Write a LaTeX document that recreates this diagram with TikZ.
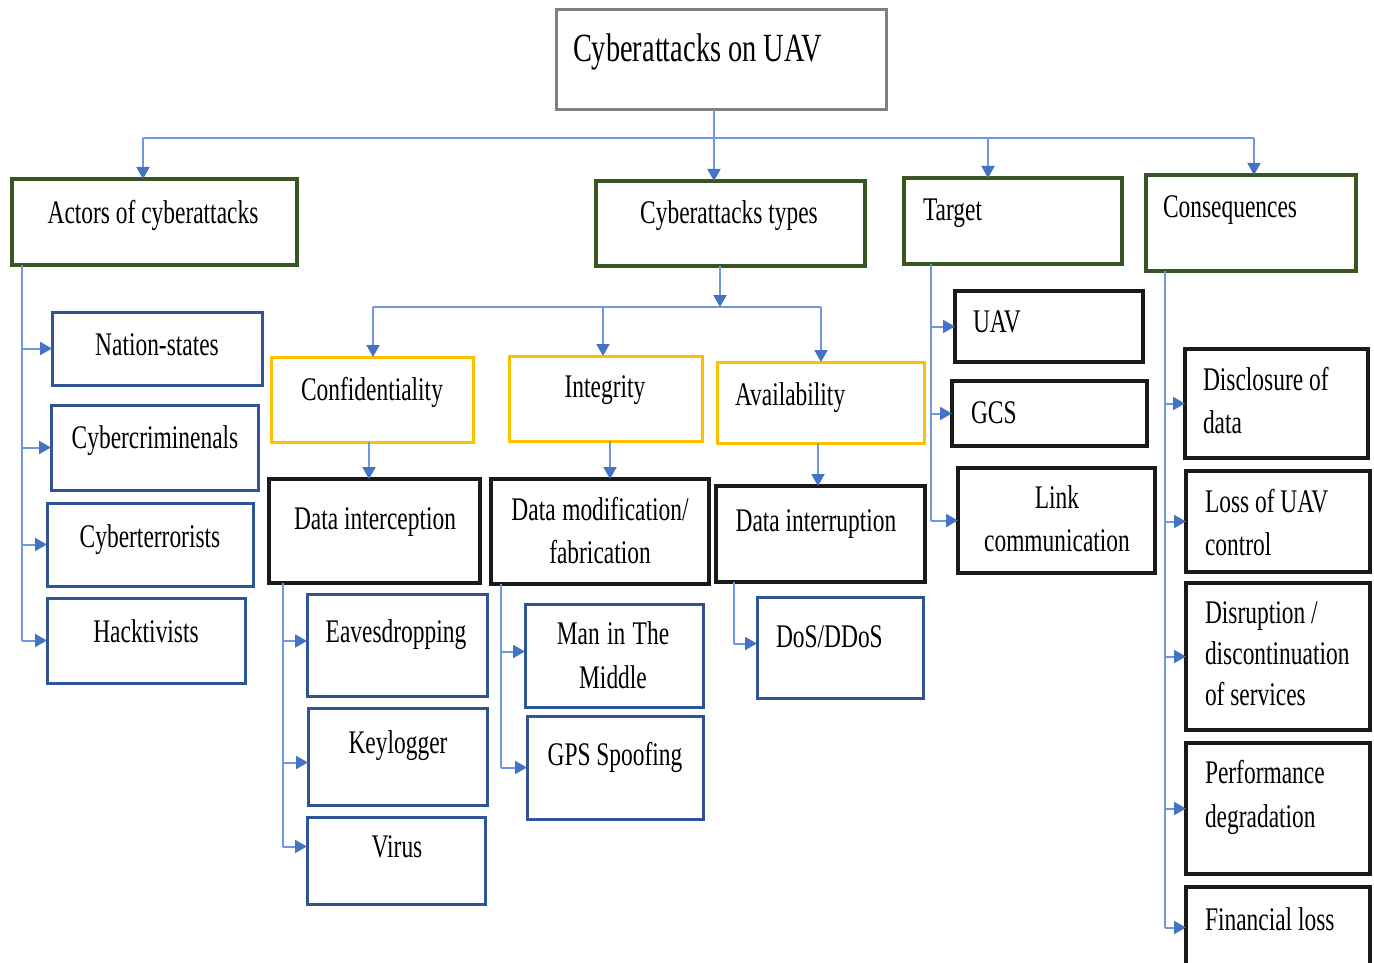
\documentclass[tikz,border=0pt]{standalone}
\usepackage{fontspec}
\setmainfont[FakeStretch=0.71]{Liberation Serif}
\usetikzlibrary{arrows.meta}
\definecolor{lineblue}{HTML}{6F98DE}
\definecolor{tipblue}{HTML}{4472C4}
\definecolor{boxblue}{HTML}{2F5597}
\definecolor{boxgreen}{HTML}{375623}
\definecolor{boxyellow}{HTML}{FFC000}
\definecolor{boxgray}{HTML}{7F7F7F}
\definecolor{boxblack}{HTML}{1A1A1A}
\tikzset{
  bx/.style={rectangle, inner sep=0pt, outer sep=0pt, fill=white},
  greenbox/.style={bx, draw=boxgreen, line width=4pt},
  graybox/.style={bx, draw=boxgray, line width=3pt},
  yellowbox/.style={bx, draw=boxyellow, line width=3pt},
  blackbox/.style={bx, draw=boxblack, line width=3.5pt},
  bluebox/.style={bx, draw=boxblue, line width=3pt},
  txt/.style={inner sep=0pt, outer sep=0pt, font=\fontsize{33}{43}\selectfont},
  mtxt/.style={txt, text width=180pt},
  line/.style={draw=lineblue, line width=2pt},
  conn/.style={line, -{Triangle[length=12pt,width=13pt,color=tipblue]}},
}
\newcommand\bx[6]{\node[#2, minimum width=#5pt-#3pt, minimum height=#6pt-#4pt, anchor=north west] (#1) at (#3,#4) {};}
\newcommand\fixsp{\spaceskip=0pt\xspaceskip=0pt\relax}
\begin{document}
\begin{tikzpicture}[x=1pt,y=-1pt]
\useasboundingbox (0,0) rectangle (1374,963);
\clip (0,0) rectangle (1374,963);
% boxes
\bx{title}{graybox}{556}{10}{886}{110}
\bx{actors}{greenbox}{12}{179}{297}{265}
\bx{types}{greenbox}{596}{181}{865}{266}
\bx{target}{greenbox}{904}{178}{1122}{264}
\bx{cons}{greenbox}{1146}{175}{1356}{271}
\bx{ns}{bluebox}{52}{312}{262}{385}
\bx{cc}{bluebox}{51}{405}{258}{490}
\bx{ct}{bluebox}{47}{503}{253}{586}
\bx{ha}{bluebox}{47}{598}{245}{683}
\bx{conf}{yellowbox}{271}{357}{473}{442}
\bx{integ}{yellowbox}{509}{356}{702}{441}
\bx{avail}{yellowbox}{717}{362}{924}{443}
\bx{dint}{blackbox}{269}{479}{480}{583}
\bx{dmod}{blackbox}{491}{479}{709}{584}
\bx{dintr}{blackbox}{716}{486}{925}{582}
\bx{eav}{bluebox}{307}{594}{487}{696}
\bx{key}{bluebox}{308}{708}{487}{805}
\bx{vir}{bluebox}{307}{817}{485}{904}
\bx{mitm}{bluebox}{525}{604}{703}{707}
\bx{gps}{bluebox}{527}{716}{703}{819}
\bx{dos}{bluebox}{757}{597}{923}{698}
\bx{uav}{blackbox}{955}{291}{1143}{362}
\bx{gcs}{blackbox}{952}{381}{1147}{446}
\bx{link}{blackbox}{958}{468}{1155}{573}
\bx{disc}{blackbox}{1185}{349}{1368}{458}
\bx{loss}{blackbox}{1186}{471}{1370}{572}
\bx{disr}{blackbox}{1186}{583}{1370}{730}
\bx{perf}{blackbox}{1186}{743}{1370}{874}
\bx{fin}{blackbox}{1186}{887}{1370}{968}
% texts
\node[txt, font=\fontsize{40}{48}\selectfont, anchor=base west] (title-t) at (573,62) {Cyberattacks on UAV};
\node[txt, anchor=base] (actors-t) at (153,223) {Actors of cyberattacks};
\node[txt, anchor=base] (types-t) at (729,223) {Cyberattacks types};
\node[txt, anchor=base west] (target-t) at (923,220) {Target};
\node[txt, anchor=base west] (cons-t) at (1163,217) {Consequences};
\node[txt, anchor=base] (ns-t) at (157,355) {Nation-states};
\node[txt, anchor=base] (cc-t) at (155,448) {Cybercriminenals};
\node[txt, anchor=base] (ct-t) at (150,547) {Cyberterrorists};
\node[txt, anchor=base] (ha-t) at (146,642) {Hacktivists};
\node[txt, anchor=base] (conf-t) at (372,400) {Confidentiality};
\node[txt, anchor=base] (integ-t) at (605,397) {Integrity};
\node[txt, anchor=base west] (avail-t) at (735,405) {Availability};
\node[txt, anchor=base] (dint-t) at (375,529) {Data interception};
\node[mtxt, align=center, text width=210pt, anchor=base] (dmod-t) at (600,520) {\fixsp Data modification/\\fabrication};
\node[txt, anchor=base] (dintr-t) at (816,531) {Data interruption};
\node[txt, anchor=base] (eav-t) at (396,642) {Eavesdropping};
\node[txt, anchor=base] (key-t) at (398,753) {Keylogger};
\node[txt, anchor=base] (vir-t) at (397,857) {Virus};
\node[mtxt, align=center, anchor=base, font=\fontsize{33}{44}\selectfont] (mitm-t) at (613,644) {\fixsp Man in The\\Middle};
\node[txt, anchor=base] (gps-t) at (615,765) {GPS Spoofing};
\node[txt, anchor=base west] (dos-t) at (776,647) {DoS/DDoS};
\node[txt, anchor=base west] (uav-t) at (973,332) {UAV};
\node[txt, anchor=base west] (gcs-t) at (971,423) {GCS};
\node[mtxt, align=center, anchor=base] (link-t) at (1057,508) {\fixsp Link\\communication};
\node[mtxt, align=left, anchor=base west] (disc-t) at (1203,390) {\fixsp Disclosure of\\data};
\node[mtxt, align=left, anchor=base west] (loss-t) at (1205,512) {\fixsp Loss of UAV\\control};
\node[mtxt, align=left, anchor=base west, font=\fontsize{33}{41}\selectfont] (disr-t) at (1205,623) {\fixsp Disruption /\\discontinuation\\of services};
\node[mtxt, align=left, anchor=base west, font=\fontsize{33}{44}\selectfont] (perf-t) at (1205,783) {\fixsp Performance\\degradation};
\node[txt, anchor=base west] (fin-t) at (1205,930) {Financial loss};
% top bus
\coordinate (b1) at (143,138);
\coordinate (b2) at (714,138);
\coordinate (b3) at (988,138);
\coordinate (b4) at (1254,138);
\draw[line] (title.south -| b2) -- (b2);
\draw[line] (b1) -- (b4);
\draw[conn] (b1) -- (b1 |- actors.north);
\draw[conn] (b2) -- (b2 |- types.north);
\draw[conn] (b3) -- (b3 |- target.north);
\draw[conn] (b4) -- (b4 |- cons.north);
% actors trunk
\coordinate (ta) at (22,0);
\draw[line] (ta |- actors.south) -- (ta |- ha.west);
\foreach \n in {ns,cc,ct,ha} \draw[conn] (ta |- \n.west) -- (\n.west);
% types bus
\coordinate (c0) at (720,307);
\coordinate (c1) at (373,307);
\coordinate (c2) at (603,307);
\coordinate (c3) at (821,307);
\draw[conn] (types.south -| c0) -- (c0);
\draw[line] (c1) -- (c3);
\draw[conn] (c1) -- (c1 |- conf.north);
\draw[conn] (c2) -- (c2 |- integ.north);
\draw[conn] (c3) -- (c3 |- avail.north);
% yellow to black
\coordinate (d1) at (369,0);
\coordinate (d2) at (610,0);
\coordinate (d3) at (818,0);
\draw[conn] (conf.south -| d1) -- (d1 |- dint.north);
\draw[conn] (integ.south -| d2) -- (d2 |- dmod.north);
\draw[conn] (avail.south -| d3) -- (d3 |- dintr.north);
% entry points
\coordinate (eavA) at ([yshift=4pt]eav.west);
\coordinate (keyA) at ([yshift=-6pt]key.west);
\coordinate (virA) at ([yshift=14pt]vir.west);
\coordinate (mitmA) at ([yshift=4pt]mitm.west);
\coordinate (dosA) at ([yshift=4pt]dos.west);
% data interception trunk
\coordinate (te) at (283,0);
\draw[line] (dint.south -| te) -- (te |- virA);
\draw[conn] (te |- eavA) -- (eavA);
\draw[conn] (te |- keyA) -- (keyA);
\draw[conn] (te |- virA) -- (virA);
% data modification trunk
\coordinate (tm) at (501,0);
\draw[line] (dmod.south -| tm) -- (tm |- gps.west);
\draw[conn] (tm |- mitmA) -- (mitmA);
\draw[conn] (tm |- gps.west) -- (gps.west);
% data interruption trunk
\coordinate (ti) at (734,0);
\draw[line] (dintr.south -| ti) -- (ti |- dosA);
\draw[conn] (ti |- dosA) -- (dosA);
% target trunk
\coordinate (tt) at (931,0);
\draw[line] (target.south -| tt) -- (tt |- link.west);
\foreach \n in {uav,gcs,link} \draw[conn] (tt |- \n.west) -- (\n.west);
% consequences trunk
\coordinate (tc) at (1165,0);
\draw[line] (cons.south -| tc) -- (tc |- fin.west);
\foreach \n in {disc,loss,disr,perf,fin} \draw[conn] (tc |- \n.west) -- (\n.west);
\end{tikzpicture}
\end{document}
